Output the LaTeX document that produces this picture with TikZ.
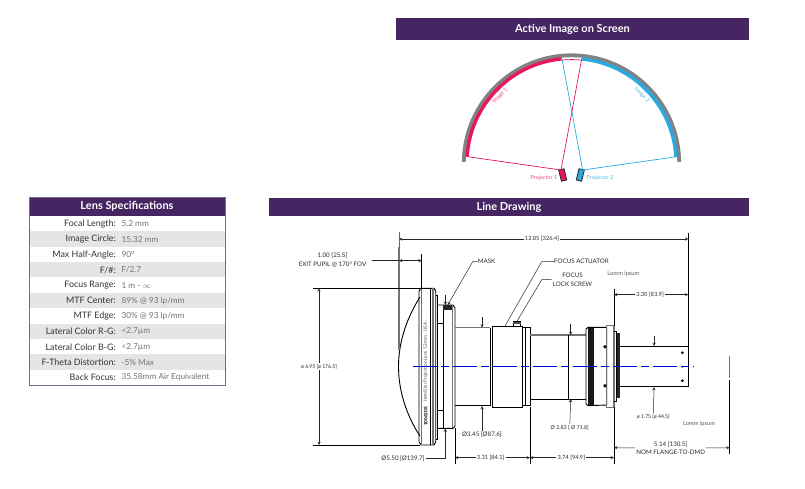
\documentclass[tikz,border=0pt]{standalone}
\usepackage{fontspec}
\setmainfont{Lato}
\definecolor{headpurple}{HTML}{452562}
\definecolor{imgpink}{HTML}{E8175D}
\definecolor{imgblue}{HTML}{29ABE2}
\definecolor{screengrey}{HTML}{808285}
\definecolor{rowgrey}{HTML}{E4E5E6}
\definecolor{dimtext}{HTML}{2A2A2A}
\tikzset{
    header/.style={fill=headpurple, text=white, font=\bfseries\fontsize{11}{13}\selectfont, inner sep=0pt, minimum height=#1},
    header/.default=20pt,
    speclabel/.style={anchor=east, inner sep=0pt, text=black!80, font=\fontsize{8.9}{10}\selectfont},
    specvalue/.style={anchor=west, inner sep=0pt, text=black!55, font=\fontsize{8.3}{10}\selectfont},
    dimtag/.style={inner sep=1pt, text=dimtext, font=\fontsize{5.7}{6.6}\selectfont, align=center},
    capstag/.style={dimtag, font=\fontsize{6.2}{7.2}\selectfont},
    dimline/.style={line width=.5pt, black!85},
    part/.style={line width=.9pt, black},
    greypart/.style={line width=1.2pt, black!55},
    extline/.style={line width=.7pt, black},
}
\begin{document}
\begin{tikzpicture}[x=1pt,y=-1pt,>=stealth]
    \useasboundingbox (0,0) rectangle (805,488);

    % active image on screen
    \node[header=22pt, minimum width=353pt] (screenhead) at (572.5,29) {Active Image on Screen};
    \coordinate (arcC) at (571.5,163);
    \draw[screengrey, line width=3.8pt] ([shift=(179.4:107.7pt)]arcC) arc[start angle=179.4, end angle=0.6, radius=107.7pt];
    \draw[imgpink, line width=3.4pt] ([shift=(176.6:104.6pt)]arcC) arc[start angle=176.6, end angle=95.4, radius=104.6pt];
    \draw[imgblue, line width=3.4pt] ([shift=(3.4:104.6pt)]arcC) arc[start angle=3.4, end angle=84.5, radius=104.6pt];
    \draw[imgpink, line width=.8pt] ([shift=(95.4:103.4pt)]arcC) arc[start angle=95.4, end angle=84.5, radius=103.4pt];
    \node[draw=black!85, fill=imgpink, line width=.8pt, minimum width=5.5pt, minimum height=11.5pt, inner sep=0pt, rotate=14] (proj1) at (562.7,175) {};
    \node[draw=black!85, fill=imgblue, line width=.8pt, minimum width=5.5pt, minimum height=11.5pt, inner sep=0pt, rotate=-14] (proj2) at (580.3,175) {};
    \coordinate (lensP1) at (561,170);
    \coordinate (lensP2) at (582.7,170);
    \draw[imgpink, line width=.7pt] (467.7,156.7) -- (lensP1) -- (581.7,59);
    \draw[imgblue, line width=.7pt] (676.7,156.7) -- (lensP2) -- (562,59);
    \node[text=imgpink!80, font=\fontsize{5.4}{6}\selectfont, inner sep=0pt] (projlabel1) at (544,178) {Projector 1};
    \node[text=imgblue!85, font=\fontsize{5.4}{6}\selectfont, inner sep=0pt] (projlabel2) at (600,178) {Projector 2};
    \node[text=imgpink!80, font=\fontsize{5.4}{6}\selectfont, inner sep=0pt, rotate=45] (imglabel1) at (500,95.7) {Image 1};
    \node[text=imgblue!85, font=\fontsize{5.4}{6}\selectfont, inner sep=0pt, rotate=-45] (imglabel2) at (642,95) {Image 2};

    % lens specifications
    \foreach \i/\lab/\val in {1/Focal Length:/5.2 mm, 2/Image Circle:/15.32 mm, 3/Max Half-Angle:/90°,
        4/{F/\#:}/{F/2.7}, 5/Focus Range:/1 m - $\infty$, 6/MTF Center:/{89\% @ 93 lp/mm},
        7/MTF Edge:/{30\% @ 93 lp/mm}, 8/Lateral Color R-G:/<2.7µm, 9/Lateral Color B-G:/<2.7µm,
        10/F-Theta Distortion:/-5\% Max, 11/Back Focus:/35.58mm Air Equivalent}{
        \pgfmathsetmacro\rowy{216+(\i-1)*15.36}
        \pgfmathparse{int(mod(\i,2))}
        \ifnum\pgfmathresult=0
            \fill[rowgrey] (29,\rowy) rectangle (225,\rowy+15.36);
        \fi
        \node[speclabel] (speclab\i) at (116,\rowy+7.9) {\lab};
        \node[specvalue] (specval\i) at (121.3,\rowy+7.9) {\val};
    }
    \node[header=19pt, minimum width=196pt] (spechead) at (127,206.5) {Lens Specifications};
    \draw[headpurple!70, line width=.7pt] (29,197) rectangle (225,385);

    % line drawing
    \node[header=18pt, minimum width=480pt] (linehead) at (509,207) {Line Drawing};

    % front element and barrel
    \draw[part] (420,297) .. controls (408,316) and (398.5,340) .. (398.5,366.7) .. controls (398.5,393) and (408,418) .. (420,436);
    \draw[part] (419,291) -- (421,288.3) -- (434,288.3) -- (435.7,291) -- (435.7,442) -- (434,445) -- (421,445) -- (419,442) -- cycle;
    \draw[greypart] (421.3,288.3) -- (421.3,445);
    \draw[line width=1.4pt] (430.5,288.3) -- (430.5,445);
    \draw[greypart] (433,288.3) -- (433,445);
    % mount ring
    \draw[part] (435.7,295) -- (437.7,295) -- (437.7,439) -- (435.7,439);
    \draw[part] (437.7,305) -- (453,305) -- (455,308) -- (455,426) -- (453,428.3) -- (437.7,428.3);
    \draw[part] (443.3,309) -- (443.3,428.3);
    \draw[greypart] (452.7,306) -- (452.7,428);
    \draw[part] (437.7,323) -- (443.3,323);
    \draw[part] (437.7,410) -- (443.3,410);
    \fill[black!85] (443.3,305) rectangle (451.7,310);
    % body sections
    \draw[greypart] (455,327.7) -- (490,327.7);
    \draw[part] (455,405.7) -- (490,405.7);
    \draw[part] (490,327.7) -- (490,405.7);
    \draw[part] (492.3,326.7) rectangle (522.7,407.3);
    \draw[part] (522.7,327.7) -- (530,327.7) -- (530,405) -- (522.7,405);
    \draw[part] (525,327.7) -- (525,405);
    \draw[greypart] (530,335) -- (586,335);
    \draw[part] (530,399) -- (586,399);
    \draw[part] (568.3,335) -- (568.3,399);
    \fill[black!90] (588,327.3) rectangle (594,405.7);
    \draw[part] (586,329) -- (588,327.3) -- (606.7,327.3) -- (606.7,405) -- (588,405.7) -- (586,404) -- cycle;
    \draw[greypart] (606.7,325.7) rectangle (614,407.3);
    \draw[part] (614,331.7) -- (616.7,331.7) -- (616.7,401.7) -- (614,401.7);
    \fill[black!85] (616.7,333) rectangle (620,398);
    \draw[part, fill=white] (605,346.7) circle (1.2pt);
    \draw[part, fill=white] (605,385.7) circle (1.2pt);
    % rear shaft
    \draw[line width=1pt] (620,346) -- (688.5,346) -- (688.5,386.7) -- (620,386.7);
    \fill (682.3,352.7) circle (1.5pt);
    \fill (682.3,380.7) circle (1.5pt);
    \fill (682.3,366.7) circle (1pt);
    \draw[part] (513.3,321.7) rectangle (520.7,326);
    \fill[black!70] (513.3,322) rectangle (520.7,323.5);
    % axis
    \draw[blue!85!black, line width=.9pt, dash pattern=on 24pt off 4pt on 8pt off 4pt] (413,366.7) -- (694,366.7);
    % engraved text
    \node[rotate=90, inner sep=0pt, text=black!70, font=\fontsize{4.6}{5}\selectfont] (engrave) at (425.7,361) {HemiStar Projection Lens 5.2mm - USA -};
    \node[rotate=90, inner sep=0pt, font=\bfseries\fontsize{4.6}{5}\selectfont] (serial) at (425.7,416.5) {1006208};

    % extension lines
    \draw[greypart, line width=1.4pt] (399,247) -- (399,350);
    \draw[extline, black!60] (399,231.7) -- (399,247);
    \draw[extline] (421.7,254) -- (421.7,289);
    \draw[extline] (313,288.3) -- (420,288.3);
    \draw[extline] (313,445) -- (420,445);
    \draw[extline] (688.3,233) -- (688.3,346);
    \draw[extline] (614,289) -- (614,326);
    \draw[extline] (455,428) -- (455,464);
    \draw[extline] (530,406.7) -- (530,464);
    \draw[extline] (614,407) -- (614,464);
    \draw[greypart] (729.7,356) -- (729.7,378);
    \draw[extline] (729.7,379.5) -- (729.7,454);

    % dimensions
    \node[dimtag] (dimAll) at (542,239) {12.85 [326.4]};
    \draw[dimline, <-] (399,239) -- (dimAll);
    \draw[dimline, ->] (dimAll) -- (688.3,239);
    \node[capstag] (dimPupil) at (332.5,260) {1.00 [25.5]\\[1pt]EXIT PUPIL @ 170° FOV};
    \coordinate (pupilEnd) at (371.7,260.7);
    \draw[dimline] (pupilEnd) -- (399,260.7);
    \draw[dimline, <->] (399,260.7) -- (421.7,260.7);
    \node[dimtag, font=\fontsize{5.1}{6}\selectfont, fill=white] (dimFront) at (319,366.7) {ø 6.95 [ø 176.5]};
    \draw[dimline, <-] (319,288.3) -- (dimFront);
    \draw[dimline, ->] (dimFront) -- (319,445);
    \node[dimtag] (dimRear) at (650,294.7) {3.30 [83.9]};
    \draw[dimline, <-] (614,294.7) -- (dimRear);
    \draw[dimline, ->] (dimRear) -- (688.3,294.7);
    \node[dimtag, font=\fontsize{5.1}{6}\selectfont] (dimShaft) at (653.3,417) {ø 1.75 [ø 44.5]};
    \draw[dimline, ->] (654,336) -- (654,346);
    \draw[dimline, ->] (dimShaft) -- (654,387);
    \node[dimtag, font=\fontsize{5.3}{6}\selectfont] (dimBarrel) at (569.7,427.7) {Ø 2.83 [ Ø 71.8]};
    \draw[dimline, ->] (570.7,324) -- (570.7,335);
    \draw[dimline, ->] (dimBarrel) -- (570.7,399);
    \node[capstag] (dimBody) at (482,435) {Ø3.45 [Ø87.6]};
    \draw[dimline, ->] (482,317) -- (482,327.7);
    \draw[dimline, ->] (dimBody) -- (482,406);
    \node[capstag] (dimMount) at (403,458.7) {Ø5.50 [Ø139.7]};
    \draw[dimline, ->] (dimMount) -- (445.3,458.7) -- (445.3,428.5);
    \node[dimtag] (dimA) at (490.7,457.7) {3.31 [84.1]};
    \draw[dimline, <-] (455,457.7) -- (dimA);
    \draw[dimline, ->] (dimA) -- (530,457.7);
    \node[dimtag] (dimB) at (571.3,457.7) {3.74 [94.9]};
    \draw[dimline, <-] (530,457.7) -- (dimB);
    \draw[dimline, ->] (dimB) -- (614,457.7);
    \node[capstag] (dimFlange) at (670.7,448.3) {5.14 [130.5]\\[1pt]NOM FLANGE-TO-DMD};
    \draw[dimline, <-] (614,447.7) -- (dimFlange);
    \draw[dimline, ->] (dimFlange) -- (729.7,447.7);

    % callouts
    \node[capstag, anchor=west, inner sep=0pt] (mask) at (477.7,261.7) {MASK};
    \draw[dimline, ->] (mask) -- (472.7,261.7) -- (447.7,305);
    \draw[dimline, ->] (445.3,295) -- (445.3,305);
    \node[capstag, anchor=west, inner sep=0pt] (actuator) at (554,261.7) {FOCUS ACTUATOR};
    \draw[dimline] (actuator) -- (541.7,261.7) -- (505,326);
    \node[capstag] (lockscrew) at (572.5,279.7) {FOCUS\\[1pt]LOCK SCREW};
    \draw[dimline] (lockscrew) -- (541.7,279.7) -- (516.7,321.7);
    \node[dimtag, text=black!65] (lorem1) at (623.3,274) {Lorem ipsum};
    \node[dimtag, text=black!65] (lorem2) at (699,424) {Lorem ipsum};
\end{tikzpicture}
\end{document}
